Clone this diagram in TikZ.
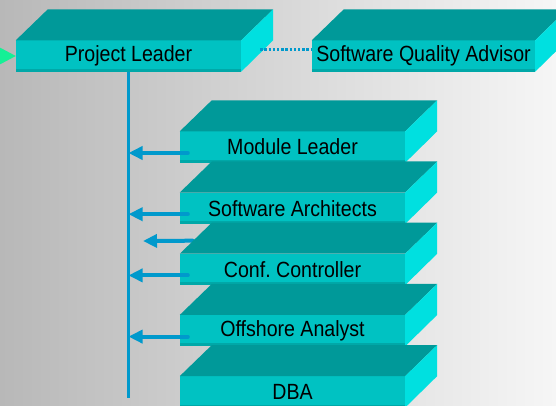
\documentclass[tikz,border=0pt]{standalone}
\usepackage{fontspec}
\setmainfont{Liberation Sans}[FakeStretch=0.89]
\usetikzlibrary{arrows.meta,calc}

\definecolor{topteal}{RGB}{0,153,153}
\definecolor{frontteal}{RGB}{0,194,194}
\definecolor{frontdark}{RGB}{0,168,168}
\definecolor{sideteal}{RGB}{0,224,224}
\definecolor{linkblue}{RGB}{0,153,204}
\definecolor{springgreen}{RGB}{20,240,150}
\definecolor{bgleft}{RGB}{184,184,184}
\definecolor{bgright}{RGB}{246,246,246}

\begin{document}
\begin{tikzpicture}[x=1pt,y=-1pt,
    feed/.style={linkblue,line width=4pt,line cap=round,-{Triangle[length=14pt,width=13pt]}},
    dotlink/.style={linkblue,line width=3pt,dash pattern=on 2.4pt off 1.8pt}]
\useasboundingbox (0,0) rectangle (556,406);
\clip (0,0) rectangle (556,406);
\shade[left color=bgleft,right color=bgright] (0,0) rectangle (556,406);

\begin{scope}[every node/.style={rectangle,fill=frontteal,inner sep=0pt,minimum height=31pt,
    font=\fontsize{22}{24}\selectfont}]
    \node [minimum width=225pt] (pl) at (128.5,56) {Project Leader};
    \node [minimum width=223pt] (sqa) at (423.5,56) {Software Quality Advisor};
    \node [minimum width=225pt] (ml) at (292.5,147) {Module Leader};
    \node [minimum width=225pt] (sa) at (292.5,208.2) {Software Architects};
    \node [minimum width=225pt] (cc) at (292.5,269.4) {Conf.\ Controller};
    \node [minimum width=225pt] (oa) at (292.5,330.6) {Offshore Analyst};
    \node [minimum width=225pt] (dba) at (292.5,391.8) {DBA};
\end{scope}

% arrow that stops short, partly behind the Conf. Controller slab
\coordinate (stray) at (143,241);
\draw [feed] ([shift={(13pt,13pt)}]cc.north west) -- (stray);

\foreach \n in {pl,sqa,ml,sa,cc,oa,dba} {
    \fill [topteal] (\n.north west) -- ++(32,-31) -- ([shift={(32,-31)}]\n.north east) -- (\n.north east) -- cycle;
    \fill [sideteal] (\n.north east) -- ++(32,-31) -- ++(0,31) -- (\n.south east) -- cycle;
    \fill [frontdark] ([yshift=3pt]\n.south west) rectangle (\n.south east);
}

\coordinate (base) at (127,398);
\draw [linkblue,line width=2.5pt] (pl.south) -- (pl.south |- base);
\foreach \n in {ml,sa,cc,oa} {
    \draw [feed] ([shift={(8pt,-6pt)}]\n.west) coordinate (s) -- (s -| pl.south);
}

\draw [dotlink] ([shift={(19pt,6pt)}]pl.east) -- ([yshift=6pt]sqa.west);
\fill [springgreen] (pl.west) -- ++(-17,-9) -- ++(0,18) -- cycle;

\end{tikzpicture}
\end{document}
